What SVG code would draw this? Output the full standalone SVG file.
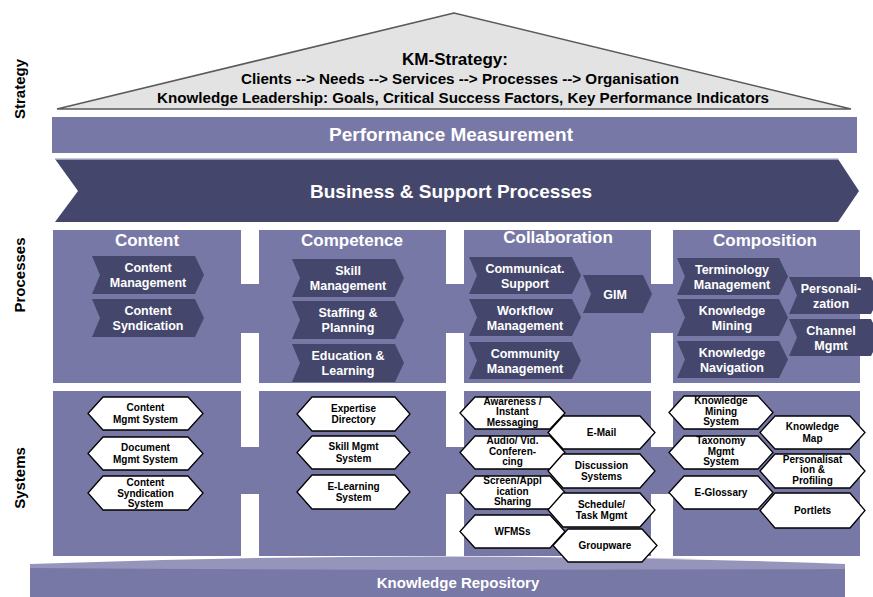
<svg xmlns="http://www.w3.org/2000/svg" width="873" height="597" viewBox="0 0 873 597">
  <style>
    text { font-family: "Liberation Sans", Arial, sans-serif; font-weight: bold; text-anchor: middle; }
    .panel { fill: #7878a6; }
    .chev { fill: #45466b; }
    .hex { fill: #ffffff; stroke: #000000; stroke-width: 1.3; stroke-linejoin: miter; }
    .side { font-size: 15px; fill: #000000; }
    .band { font-size: 19px; fill: #ffffff; }
    .title { font-size: 17px; fill: #ffffff; }
    .ct { font-size: 12.5px; fill: #ffffff; }
    .ht { font-size: 10px; fill: #000000; }
  </style>

  <!-- layer labels -->
  <g id="layer-labels">
    <text class="side" transform="translate(25,89) rotate(-90)">Strategy</text>
    <text class="side" transform="translate(25,275) rotate(-90)">Processes</text>
    <text class="side" transform="translate(25,478) rotate(-90)">Systems</text>
  </g>

  <!-- strategy roof -->
  <g id="km-strategy">
    <polygon points="454,13 57,109 851,109" fill="#e3e3e3" stroke="#5a5a5a" stroke-width="1.5"/>
    <text x="455" y="65" font-size="17" fill="#000">KM-Strategy:</text>
    <text x="460" y="83.5" font-size="14" fill="#000" textLength="438" lengthAdjust="spacingAndGlyphs">Clients --&gt; Needs --&gt; Services --&gt; Processes --&gt; Organisation</text>
    <text x="463" y="102.5" font-size="14" fill="#000" textLength="612" lengthAdjust="spacingAndGlyphs">Knowledge Leadership: Goals, Critical Success Factors, Key Performance Indicators</text>
  </g>

  <g id="performance-measurement">
    <rect x="52" y="117" width="805" height="36" class="panel"/>
    <text class="band" x="451" y="141">Performance Measurement</text>
  </g>

  <g id="business-processes">
    <polygon points="55,159 838,159 859,191 838,222 55,222 78,191" class="chev"/>
    <line x1="55" y1="159" x2="838" y2="159" stroke="#b4b4d0" stroke-width="1.5"/>
    <text class="band" x="451" y="198">Business &amp; Support Processes</text>
  </g>

  <!-- bands linking the columns -->
  <g id="connectors">
    <rect x="240" y="284" width="20" height="49" class="panel"/>
    <rect x="445" y="284" width="20" height="49" class="panel"/>
    <rect x="650" y="284" width="24" height="49" class="panel"/>
    <rect x="240" y="447" width="20" height="47" class="panel"/>
    <rect x="445" y="447" width="20" height="47" class="panel"/>
    <rect x="650" y="447" width="24" height="47" class="panel"/>
  </g>

  <!-- process columns -->
  <g id="proc-content">
    <rect x="53" y="230" width="188" height="153" class="panel"/>
    <text class="title" x="147" y="246">Content</text>
  </g>
  <g id="proc-competence">
    <rect x="259" y="230" width="187" height="153" class="panel"/>
    <text class="title" x="352" y="246">Competence</text>
  </g>
  <g id="proc-collaboration">
    <rect x="464" y="230" width="187" height="153" class="panel"/>
    <text class="title" x="558" y="243">Collaboration</text>
  </g>
  <g id="proc-composition">
    <rect x="673" y="230" width="187" height="153" class="panel"/>
    <text class="title" x="765" y="246">Composition</text>
  </g>

  <g id="content-management">
    <polygon class="chev" points="92,256 195,256 204,275 195,294 92,294 100,275"/>
    <text class="ct" x="148" y="272">Content</text>
    <text class="ct" x="148" y="287">Management</text>
  </g>
  <g id="content-syndication">
    <polygon class="chev" points="92,299 195,299 204,318 195,337 92,337 100,318"/>
    <text class="ct" x="148" y="315">Content</text>
    <text class="ct" x="148" y="330">Syndication</text>
  </g>

  <g id="skill-management">
    <polygon class="chev" points="292,259 395,259 404,278 395,297 292,297 300,278"/>
    <text class="ct" x="348" y="275">Skill</text>
    <text class="ct" x="348" y="290">Management</text>
  </g>
  <g id="staffing-planning">
    <polygon class="chev" points="292,301 395,301 404,320 395,339 292,339 300,320"/>
    <text class="ct" x="348" y="317">Staffing &amp;</text>
    <text class="ct" x="348" y="332">Planning</text>
  </g>
  <g id="education-learning">
    <polygon class="chev" points="292,344 395,344 404,363 395,382 292,382 300,363"/>
    <text class="ct" x="348" y="360">Education &amp;</text>
    <text class="ct" x="348" y="375">Learning</text>
  </g>

  <g id="communication-support">
    <polygon class="chev" points="469,257 572,257 581,275.5 572,294 469,294 477,275.5"/>
    <text class="ct" x="525" y="272.5">Communicat.</text>
    <text class="ct" x="525" y="287.5">Support</text>
  </g>
  <g id="workflow-management">
    <polygon class="chev" points="469,299 572,299 581,317.5 572,336 469,336 477,317.5"/>
    <text class="ct" x="525" y="314.5">Workflow</text>
    <text class="ct" x="525" y="329.5">Management</text>
  </g>
  <g id="community-management">
    <polygon class="chev" points="469,342 572,342 581,360.5 572,379 469,379 477,360.5"/>
    <text class="ct" x="525" y="357.5">Community</text>
    <text class="ct" x="525" y="372.5">Management</text>
  </g>
  <g id="gim">
    <polygon class="chev" points="583,275 643,275 652,294 643,313 583,313 591,294"/>
    <text class="ct" x="615" y="298.5">GIM</text>
  </g>

  <g id="terminology-management">
    <polygon class="chev" points="677,258 779,258 788,276.5 779,295 677,295 685,276.5"/>
    <text class="ct" x="732" y="273.5">Terminology</text>
    <text class="ct" x="732" y="288.5">Management</text>
  </g>
  <g id="knowledge-mining">
    <polygon class="chev" points="677,299 779,299 788,317.5 779,336 677,336 685,317.5"/>
    <text class="ct" x="732" y="314.5">Knowledge</text>
    <text class="ct" x="732" y="329.5">Mining</text>
  </g>
  <g id="knowledge-navigation">
    <polygon class="chev" points="677,341 779,341 788,359.5 779,378 677,378 685,359.5"/>
    <text class="ct" x="732" y="356.5">Knowledge</text>
    <text class="ct" x="732" y="371.5">Navigation</text>
  </g>
  <g id="personalization">
    <polygon class="chev" points="789,277 871,277 880,295.5 871,314 789,314 797,295.5"/>
    <text class="ct" x="831" y="292.5">Personali-</text>
    <text class="ct" x="831" y="307.5">zation</text>
  </g>
  <g id="channel-mgmt">
    <polygon class="chev" points="789,319 871,319 880,337.5 871,356 789,356 797,337.5"/>
    <text class="ct" x="831" y="334.5">Channel</text>
    <text class="ct" x="831" y="349.5">Mgmt</text>
  </g>

  <!-- knowledge repository base -->
  <g id="knowledge-repository">
    <rect x="30" y="566" width="815" height="31" class="panel"/>
    <path d="M30,568 L30,564 Q437.5,549 845,564 L845,569 Q437.5,571 30,568 Z" fill="#9595bb"/>
    <text x="458" y="588" font-size="15" fill="#ffffff">Knowledge Repository</text>
  </g>

  <!-- system columns -->
  <g id="sys-content"><rect x="53" y="391" width="188" height="165" class="panel"/></g>
  <g id="sys-competence"><rect x="259" y="391" width="187" height="165" class="panel"/></g>
  <g id="sys-collaboration"><rect x="464" y="391" width="187" height="165" class="panel"/></g>
  <g id="sys-composition"><rect x="673" y="391" width="187" height="165" class="panel"/></g>

  <g id="content-mgmt-system">
    <polygon class="hex" points="88,413.5 103,397 188,397 203,413.5 188,430 103,430"/>
    <text class="ht" x="145.5" y="411.3">Content</text>
    <text class="ht" x="145.5" y="422.8">Mgmt System</text>
  </g>
  <g id="document-mgmt-system">
    <polygon class="hex" points="88,453.5 103,437 188,437 203,453.5 188,470 103,470"/>
    <text class="ht" x="145.5" y="451.3">Document</text>
    <text class="ht" x="145.5" y="462.8">Mgmt System</text>
  </g>
  <g id="content-syndication-system">
    <polygon class="hex" points="88,493 103,476 188,476 203,493 188,510 103,510"/>
    <text class="ht" x="145.5" y="485.7">Content</text>
    <text class="ht" x="145.5" y="496.5">Syndication</text>
    <text class="ht" x="145.5" y="507.3">System</text>
  </g>

  <g id="expertise-directory">
    <polygon class="hex" points="297,414 312,397 395,397 410,414 395,431 312,431"/>
    <text class="ht" x="353.5" y="411.7">Expertise</text>
    <text class="ht" x="353.5" y="423.2">Directory</text>
  </g>
  <g id="skill-mgmt-system">
    <polygon class="hex" points="297,452.5 312,436 395,436 410,452.5 395,469 312,469"/>
    <text class="ht" x="353.5" y="450.3">Skill Mgmt</text>
    <text class="ht" x="353.5" y="461.8">System</text>
  </g>
  <g id="e-learning-system">
    <polygon class="hex" points="297,492 312,475 395,475 410,492 395,509 312,509"/>
    <text class="ht" x="353.5" y="489.7">E-Learning</text>
    <text class="ht" x="353.5" y="501.2">System</text>
  </g>

  <g id="awareness-messaging">
    <polygon class="hex" points="460,413 475,397 550,397 565,413 550,429 475,429"/>
    <text class="ht" x="512.5" y="404.5">Awareness /</text>
    <text class="ht" x="512.5" y="415">Instant</text>
    <text class="ht" x="512.5" y="425.5">Messaging</text>
  </g>
  <g id="e-mail">
    <polygon class="hex" points="548,432.5 563,416 640,416 655,432.5 640,449 563,449"/>
    <text class="ht" x="601.5" y="436">E-Mail</text>
  </g>
  <g id="audio-video-conferencing">
    <polygon class="hex" points="460,452.5 475,436 550,436 565,452.5 550,469 475,469"/>
    <text class="ht" x="512.5" y="444">Audio/ Vid.</text>
    <text class="ht" x="512.5" y="454.5">Conferen-</text>
    <text class="ht" x="512.5" y="465">cing</text>
  </g>
  <g id="discussion-systems">
    <polygon class="hex" points="548,471 563,454 640,454 655,471 640,488 563,488"/>
    <text class="ht" x="601.5" y="468.8">Discussion</text>
    <text class="ht" x="601.5" y="480.3">Systems</text>
  </g>
  <g id="application-sharing">
    <polygon class="hex" points="460,492.5 475,476 550,476 565,492.5 550,509 475,509"/>
    <text class="ht" x="512.5" y="484">Screen/Appl</text>
    <text class="ht" x="512.5" y="494.5">ication</text>
    <text class="ht" x="512.5" y="505">Sharing</text>
  </g>
  <g id="schedule-task-mgmt">
    <polygon class="hex" points="548,510 563,493 640,493 655,510 640,527 563,527"/>
    <text class="ht" x="601.5" y="507.8">Schedule/</text>
    <text class="ht" x="601.5" y="519.3">Task Mgmt</text>
  </g>
  <g id="wfmss">
    <polygon class="hex" points="460,531.5 475,515 550,515 565,531.5 550,548 475,548"/>
    <text class="ht" x="512.5" y="535">WFMSs</text>
  </g>
  <g id="groupware">
    <polygon class="hex" points="553,545.5 568,529 642,529 657,545.5 642,562 568,562"/>
    <text class="ht" x="605" y="549">Groupware</text>
  </g>

  <g id="knowledge-mining-system">
    <polygon class="hex" points="669,412.5 684,396 758,396 773,412.5 758,429 684,429"/>
    <text class="ht" x="721" y="404">Knowledge</text>
    <text class="ht" x="721" y="414.5">Mining</text>
    <text class="ht" x="721" y="425">System</text>
  </g>
  <g id="knowledge-map">
    <polygon class="hex" points="760,432.5 775,416 850,416 865,432.5 850,449 775,449"/>
    <text class="ht" x="812.5" y="430.3">Knowledge</text>
    <text class="ht" x="812.5" y="441.8">Map</text>
  </g>
  <g id="taxonomy-mgmt-system">
    <polygon class="hex" points="669,452.5 684,436 758,436 773,452.5 758,469 684,469"/>
    <text class="ht" x="721" y="444">Taxonomy</text>
    <text class="ht" x="721" y="454.5">Mgmt</text>
    <text class="ht" x="721" y="465">System</text>
  </g>
  <g id="personalisation-profiling">
    <polygon class="hex" points="760,471 775,454 850,454 865,471 850,488 775,488"/>
    <text class="ht" x="812.5" y="462.5">Personalisat</text>
    <text class="ht" x="812.5" y="473">ion &amp;</text>
    <text class="ht" x="812.5" y="483.5">Profiling</text>
  </g>
  <g id="e-glossary">
    <polygon class="hex" points="669,492.5 684,476 758,476 773,492.5 758,509 684,509"/>
    <text class="ht" x="721" y="496">E-Glossary</text>
  </g>
  <g id="portlets">
    <polygon class="hex" points="760,510.5 775,493 850,493 865,510.5 850,528 775,528"/>
    <text class="ht" x="812.5" y="514">Portlets</text>
  </g>
</svg>
